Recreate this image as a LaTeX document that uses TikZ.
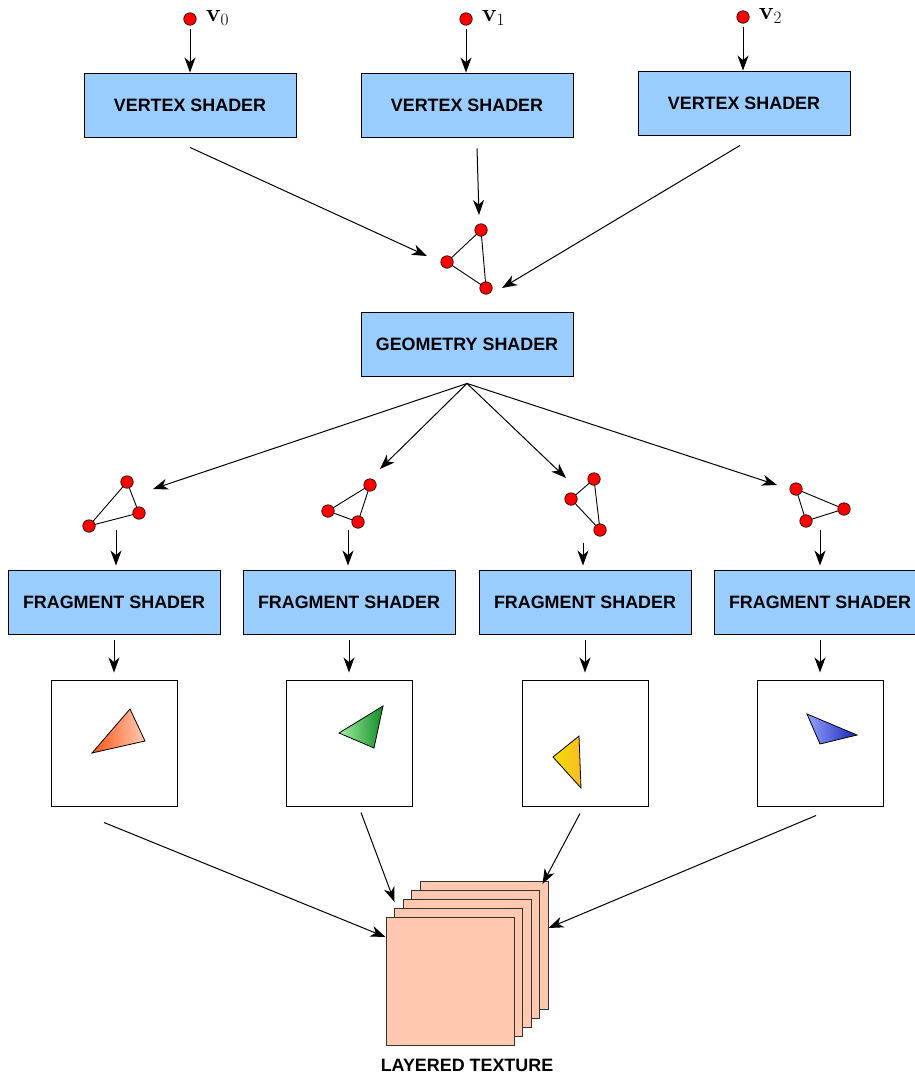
\documentclass[tikz,border=0pt]{standalone}
\usepackage[no-math]{fontspec}
\newfontfamily\shaderfont{Liberation Sans}
\usepackage{tikz}
\usetikzlibrary{calc,positioning,shapes,arrows,arrows.meta}
\definecolor{shaderblue}{RGB}{153,204,255}
\definecolor{layerpeach}{RGB}{255,200,175}
\tikzstyle{shader} = [rectangle, draw=black, fill=shaderblue, line width=0.9pt,
    minimum width=212pt, minimum height=64pt, font=\shaderfont\bfseries\fontsize{17.9}{20}\selectfont]
\tikzstyle{vdot} = [circle, draw=black, fill=red, inner sep=0pt, minimum size=12.5pt, line width=0.6pt]
\tikzstyle{vlabel} = [font=\fontsize{26}{30}\selectfont, inner sep=0pt]
\tikzstyle{edge} = [line width=0.9pt]
\tikzstyle{arrow} = [line width=1pt, -{Stealth[length=15pt,width=11pt,inset=4.5pt]}]
\tikzstyle{frame} = [rectangle, draw=black, fill=white, minimum size=126pt, line width=1pt]
\tikzstyle{layer} = [rectangle, draw=black!80, fill=layerpeach, minimum size=128pt, line width=1pt]

\begin{document}
\begin{tikzpicture}[x=1pt,y=-1pt]
        \useasboundingbox (0,0) rectangle (915,1076);
        % input vertices
        \node[vdot] (V0) at (190,19) {};
        \node[vdot] (V1) at (466,19) {};
        \node[vdot] (V2) at (743,17) {};
        \node[vlabel, right=9pt of V0, yshift=1pt] (V0label) {$\mathbf{v}_0$};
        \node[vlabel, right=9pt of V1, yshift=1pt] (V1label) {$\mathbf{v}_1$};
        \node[vlabel, right=9pt of V2, yshift=1pt] (V2label) {$\mathbf{v}_2$};
        % vertex shaders
        \node[shader] (VS0) at (190,105) {VERTEX SHADER};
        \node[shader] (VS1) at (467,105) {VERTEX SHADER};
        \node[shader] (VS2) at (744,103) {VERTEX SHADER};
        \draw[arrow, shorten <=3pt] (V0) -- (V0 |- VS0.north);
        \draw[arrow, shorten <=3pt] (V1) -- (V1 |- VS1.north);
        \draw[arrow, shorten <=3pt] (V2) -- (V2 |- VS2.north);
        % assembled triangle
        \draw[edge] (481,230) coordinate (gA) -- (447,262) coordinate (gB) -- (486,288) coordinate (gC) -- cycle;
        \foreach \p in {gA,gB,gC} \node[vdot] at (\p) {};
        \coordinate (gInL) at (427,256);
        \coordinate (gInM) at (479,215);
        \coordinate (gInR) at (502,288);
        \draw[arrow] ([yshift=-10pt]VS0.south) -- (gInL);
        \draw[arrow] ([xshift=10pt,yshift=-11pt]VS1.south) -- (gInM);
        \draw[arrow] ([xshift=-4pt,yshift=-10pt]VS2.south) -- (gInR);
        % geometry shader
        \node[shader] (GS) at (467,344) {GEOMETRY SHADER};
        % emitted triangles
        \draw[edge] (127,482) coordinate (t1a) -- (89,526) coordinate (t1b) -- (139,513) coordinate (t1c) -- cycle;
        \draw[edge] (370,485) coordinate (t2a) -- (328,511) coordinate (t2b) -- (358,522) coordinate (t2c) -- cycle;
        \draw[edge] (594,479) coordinate (t3a) -- (571,499) coordinate (t3b) -- (600,530) coordinate (t3c) -- cycle;
        \draw[edge] (796,489) coordinate (t4a) -- (806,521) coordinate (t4b) -- (844,509) coordinate (t4c) -- cycle;
        \foreach \t in {1,2,3,4}
            \foreach \c in {a,b,c} \node[vdot] at (t\t\c) {};
        \coordinate (tIn1) at (153,489);
        \coordinate (tIn2) at (380,469);
        \coordinate (tIn3) at (566,478);
        \coordinate (tIn4) at (777,485);
        \foreach \t in {1,2,3,4}
            \draw[arrow] ([yshift=-7pt]GS.south) -- (tIn\t);
        % fragment shaders
        \node[shader] (FS1) at (114,602) {FRAGMENT SHADER};
        \node[shader] (FS2) at (349,602) {FRAGMENT SHADER};
        \node[shader] (FS3) at (585,602) {FRAGMENT SHADER};
        \node[shader] (FS4) at (820,602) {FRAGMENT SHADER};
        \draw[arrow] ([xshift=2pt,yshift=40pt]FS1.north) -- ([xshift=2pt,yshift=4pt]FS1.north);
        \draw[arrow] ([xshift=-1pt,yshift=40pt]FS2.north) -- ([xshift=-1pt,yshift=4pt]FS2.north);
        \draw[arrow] ([xshift=-2pt,yshift=27pt]FS3.north) -- ([xshift=-2pt,yshift=4pt]FS3.north);
        \draw[arrow] ([yshift=40pt]FS4.north) -- ([yshift=4pt]FS4.north);
        % rendered layers
        \node[frame] (S1) at (114,743) {};
        \node[frame] (S2) at (349,743) {};
        \node[frame] (S3) at (585,743) {};
        \node[frame] (S4) at (820,743) {};
        \foreach \i in {1,2,3,4}
            \draw[arrow] ([yshift=-6pt]FS\i.south) -- ([yshift=7pt]S\i.north);
        \shade[draw=black, line width=0.8pt, left color={rgb,255:red,255;green,85;blue,20}, right color={rgb,255:red,255;green,205;blue,180}]
            (130,709) -- (145,741) -- (92,753) -- cycle; %orange
        \shade[draw=black, line width=0.8pt, left color={rgb,255:red,160;green,240;blue,160}, right color={rgb,255:red,20;green,140;blue,40}]
            (383,706) -- (374,748) -- (339,733) -- cycle; %green
        \shade[draw=black, line width=0.8pt, left color={rgb,255:red,240;green,225;blue,0}, right color={rgb,255:red,250;green,185;blue,40}]
            (579,736) -- (581,788) -- (553,757) -- cycle; %yellow
        \shade[draw=black, line width=0.8pt, left color={rgb,255:red,150;green,160;blue,255}, right color={rgb,255:red,20;green,40;blue,180}]
            (807,714) -- (857,735) -- (820,744) -- cycle; %blue
        % layered texture
        \foreach \i in {4,3,2,1,0}
            \node[layer] (L\i) at (450+8.5*\i, 981.5-9*\i) {};
        \node[font=\shaderfont\bfseries\fontsize{17.9}{20}\selectfont] (LT) at (467,1065) {LAYERED TEXTURE};
        \draw[arrow] ([xshift=-10pt,yshift=-16pt]S1.south) -- ([yshift=44.5pt]L0.west);
        \draw[arrow] ([xshift=12pt,yshift=-6pt]S2.south) -- ([xshift=-8pt,yshift=-3pt]L2.north west);
        \draw[arrow] ([xshift=-5pt,yshift=-7pt]S3.south) -- ([xshift=-6pt,yshift=-3pt]L4.north east);
        \draw[arrow] ([xshift=-4pt,yshift=-9pt]S4.south) -- ([yshift=17.5pt]L4.east);
\end{tikzpicture}
\end{document}
